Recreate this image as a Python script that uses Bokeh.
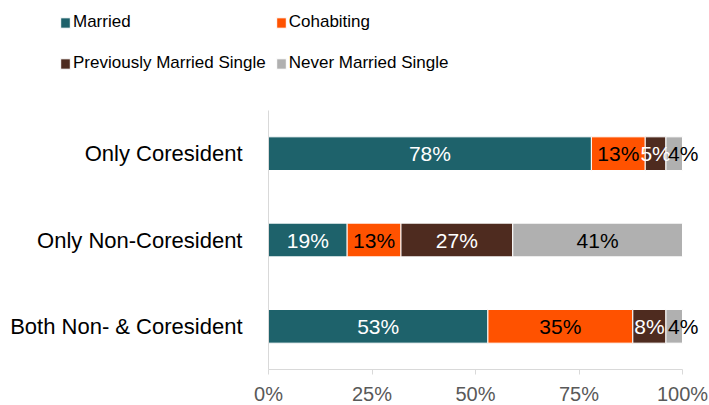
from bokeh.plotting import figure
from bokeh.models import (ColumnDataSource, Legend, LegendItem, Range1d, FixedTicker,
                          NumeralTickFormatter)
from bokeh.embed import file_html
from bokeh.resources import INLINE

categories = ["Only Coresident", "Only Non-Coresident", "Both Non- & Coresident"]
series = ["Married", "Cohabiting", "Previously Married Single", "Never Married Single"]
married = [78, 19, 53]
cohabiting = [13, 13, 35]
prev_married = [5, 27, 8]
never_married = [4, 41, 4]
colors = ["#1E626B", "#FF5200", "#4E2B1F", "#B0B0B0"]
label_colors = ["white", "black", "white", "black"]
ticks = [0, 25, 50, 75, 100]

values = [married, cohabiting, prev_married, never_married]
keys = ["married", "cohabiting", "prev", "never"]
ncat = len(categories)
ypos = [ncat - 0.5 - i for i in range(ncat)]

data = {"y": ypos}
for k, v in zip(keys, values):
    data[k] = [x / 100 for x in v]
source = ColumnDataSource(data)

# frame covers the whole canvas; data 0..1 maps to pixels 268..682
W, H = 709, 405
x0px, x1px = 268, 682
span = (x1px - x0px)
pitch = 86.33
ybot_px = 369  # pixel row of y=0
p = figure(width=W, height=H, output_backend="svg", toolbar_location=None, min_border=0,
           x_range=Range1d(-x0px / span, 1 + (W - x1px) / span),
           y_range=Range1d(-(H - ybot_px) / pitch, ybot_px / pitch))
p.outline_line_color = None
p.grid.visible = False

renderers = p.hbar_stack(keys, y="y", height=0.39, color=colors, source=source,
                         line_color="white", line_width=1)

# segment labels
n = len(values)
for i, (k, v) in enumerate(zip(keys, values)):
    lefts = [sum(values[j][c] for j in range(i)) for c in range(ncat)]
    xs = [(l + val / 2) / 100 for l, val in zip(lefts, v)]
    dx = [9 if (i == n - 1 and val < 6) else 0 for val in v]
    src = ColumnDataSource(dict(x=xs, y=ypos, dx=dx, t=[f"{val}%" for val in v]))
    p.text(x="x", y="y", text="t", source=src, x_offset="dx", text_align="center",
           text_baseline="middle", text_color=label_colors[i], text_font_size="21px",
           text_font={"value": "Liberation Sans"})

p.xaxis.fixed_location = 0
p.xaxis.bounds = (0, 1)
p.xaxis.ticker = FixedTicker(ticks=[t / 100 for t in ticks])
p.xaxis.formatter = NumeralTickFormatter(format="0%")
p.xaxis.axis_line_color = "#D9D9D9"
p.xaxis.major_tick_line_color = "#D9D9D9"
p.xaxis.major_tick_out = 5
p.xaxis.major_tick_in = 0
p.xaxis.minor_tick_line_color = None
p.xaxis.major_label_text_color = "#595959"
p.xaxis.major_label_text_font = "Liberation Sans"
p.xaxis.major_label_text_font_size = "20px"
p.xaxis.major_label_standoff = 8

p.yaxis.fixed_location = 0
p.yaxis.bounds = (0, ncat)
p.yaxis.ticker = FixedTicker(ticks=ypos)
p.yaxis.major_label_overrides = {y: c for y, c in zip(ypos, categories)}
p.yaxis.axis_line_color = "#D9D9D9"
p.yaxis.major_tick_line_color = None
p.yaxis.minor_tick_line_color = None
p.yaxis.major_label_text_color = "black"
p.yaxis.major_label_text_font = "Liberation Sans"
p.yaxis.major_label_text_font_size = "22px"
p.yaxis.major_label_standoff = 20

items = [LegendItem(label=s, renderers=[r]) for s, r in zip(series, renderers)]
legend = Legend(items=items, location=(59, 326), orientation="horizontal", ncols=2,
                label_text_font="Liberation Sans", label_text_font_size="17px",
                label_text_color="black", glyph_width=12, glyph_height=13, label_standoff=2,
                label_height=32, spacing=9, padding=0, margin=0,
                border_line_color=None, background_fill_alpha=0)
p.add_layout(legend, "center")

open("out.html", "w").write(file_html(p, INLINE))
